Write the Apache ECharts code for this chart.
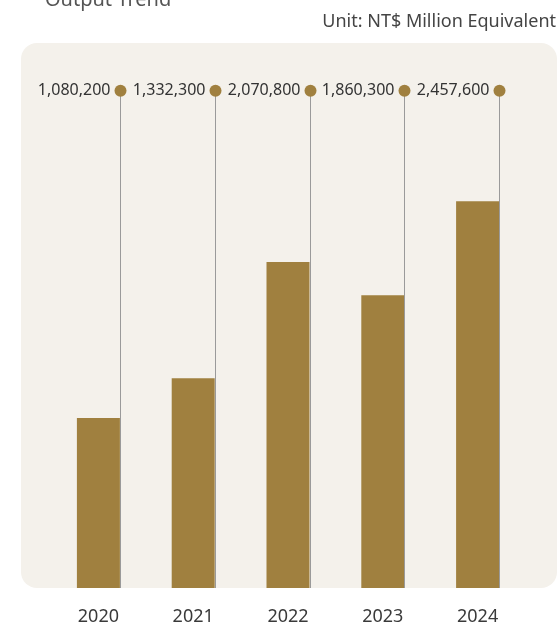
<!DOCTYPE html>
<html><head><meta charset="utf-8">
<script src="https://cdn.jsdelivr.net/npm/echarts@6/dist/echarts.min.js"></script>
<style>html,body{margin:0;padding:0;background:#fff}#c{width:559px;height:626px}</style>
</head><body><div id="c"></div>
<script>
const years = ['2020','2021','2022','2023','2024'];
const outputValues = [1080200, 1332300, 2070800, 1860300, 2457600];
const titleText = 'Output Trend';
const unitText = 'Unit: NT$ Million Equivalent';

const GOLD = '#a0803f';
const FONT = '"Noto Sans", "Open Sans", sans-serif';
const chart = echarts.init(document.getElementById('c'), null, {renderer:'canvas'});
const fmt = v => v.toLocaleString('en-US');

chart.setOption({
  animation:false,
  backgroundColor:'#fff',
  graphic:[
    {type:'rect', left:21, top:43, shape:{width:536, height:545, r:16}, style:{fill:'#f4f1eb'}, z:-10},
    {type:'text', x:45, y:10, style:{text:titleText, font:'20px '+FONT, fill:'#555', verticalAlign:'bottom'}},
    {type:'text', x:556, y:22, style:{text:unitText, font:'18px '+FONT, fill:'#444', align:'right', verticalAlign:'middle'}}
  ],
  grid:{left:51, width:474, top:90.7, bottom:38},
  xAxis:{type:'category', data:years, axisLine:{show:false}, axisTick:{show:false},
    axisLabel:{fontSize:18, color:'#3a3a3a', margin:20, fontFamily:FONT}},
  yAxis:[
    {type:'value', min:0, max:3160000, show:false},
    {type:'value', min:0, max:1, show:false}
  ],
  series:[
    {type:'bar', data:outputValues, barWidth:43, itemStyle:{color:GOLD}, z:2},
    {type:'custom', yAxisIndex:1, z:3,
     data: years.map((y,i)=>[i,1,outputValues[i]]),
     renderItem:(params, api)=>{
       const top = api.coord([api.value(0), 1]);
       const bot = api.coord([api.value(0), 0]);
       const x = Math.round(top[0] + 21.5) + 0.5;
       return {type:'group', children:[
         {type:'line', shape:{x1:x, y1:top[1], x2:x, y2:bot[1]}, style:{stroke:'#9a9a9a', lineWidth:1}},
         {type:'circle', shape:{cx:x, cy:top[1], r:6}, style:{fill:GOLD}},
         {type:'text', style:{text:fmt(api.value(2)), x:x-10, y:top[1], align:'right', verticalAlign:'middle', font:'16px '+FONT, fill:'#333'}}
       ]};
     }}
  ]
});
</script></body></html>
